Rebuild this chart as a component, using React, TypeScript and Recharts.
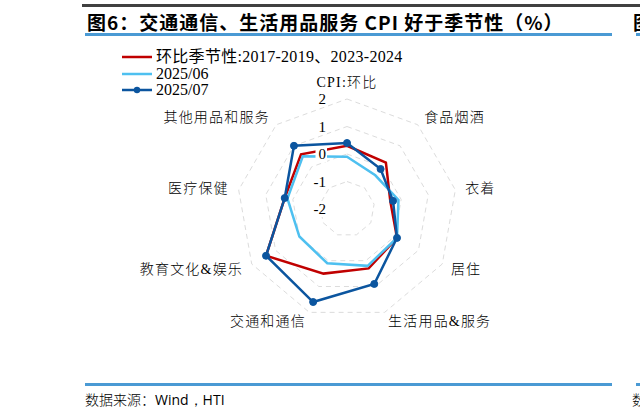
import React from "react"
import { RadarChart, Radar, PolarGrid, PolarAngleAxis, PolarRadiusAxis } from "recharts"

const categories = ["CPI:环比", "食品烟酒", "衣着", "居住", "生活用品&服务", "交通和通信", "教育文化&娱乐", "医疗保健", "其他用品和服务"]
const seasonal = [0.3, 0.2, -0.4, 0.1, 0.3, 0.5, 1.4, 0.3, 0.6]
const jun2025 = [-0.1, -0.4, -0.1, 0.1, 0.2, 0.1, 0.0, 0.2, 0.5]
const jul2025 = [0.4, -0.1, -0.3, 0.1, 0.9, 1.6, 1.4, 0.3, 1.0]
const radiusTicks = [-2, -1, 0, 1, 2]

const seriesNames = ["环比季节性:2017-2019、2023-2024", "2025/06", "2025/07"]

const RED = "#C00000"
const LIGHT = "#4EC0F0"
const DARK = "#0B559F"

const data = categories.map((c, i) => ({
  name: c,
  seasonal: seasonal[i],
  jun: jun2025[i],
  jul: jul2025[i],
}))

const serif = '"Liberation Serif", "Noto Sans CJK SC", serif'

// category labels sit just outside the outer ring, anchored by side
function AngleTick(props: any) {
  const { cx, cy, payload } = props
  const a = (payload.coordinate * Math.PI) / 180
  const r = 120
  const cos = Math.cos(a)
  const sin = Math.sin(a)
  let x = cx + r * cos
  let y = cy - r * sin
  let anchor = "middle"
  if (cos > 0.2) anchor = "start"
  else if (cos < -0.2) anchor = "end"
  if (sin > 0.95) y -= 7
  return (
    <text x={x} y={y} textAnchor={anchor} dominantBaseline="central" fontSize={14} fontFamily={serif} fontWeight={300} fill="#000" letterSpacing={1.2}>
      {payload.value}
    </text>
  )
}

// tick labels on a white box, like the "0" that hides the lines behind it
function RadiusTick(props: any) {
  const { x, y, payload } = props
  const label = String(payload.value)
  const w = label.length * 7.5 + 2
  return (
    <g>
      <rect x={x - 22 - w} y={y - 8} width={w + 2} height={16} fill="#fff" />
      <text x={x - 21} y={y} textAnchor="end" dominantBaseline="central" fontSize={15} fontFamily={serif} fill="#000">
        {label}
      </text>
    </g>
  )
}

function LegendBox() {
  const colors = [RED, LIGHT, DARK]
  return (
    <div style={{ position: "absolute", left: 122, top: 49, fontFamily: serif, fontSize: 16, lineHeight: "16.5px" }}>
      {seriesNames.map((n, i) => (
        <div key={n} style={{ display: "flex", alignItems: "center", height: 16.5 }}>
          <svg width={31} height={10} style={{ marginRight: 3 }}>
            <line x1={0} y1={5} x2={30} y2={5} stroke={colors[i]} strokeWidth={2.5} />
            {i === 2 && <circle cx={15} cy={5} r={3.2} fill={DARK} />}
          </svg>
          <span style={{ letterSpacing: i === 0 ? 0.3 : 0 }}>{n}</span>
        </div>
      ))}
    </div>
  )
}

export default function App() {
  return (
    <div style={{ position: "absolute", left: 0, top: 0, width: 640, height: 418, background: "#fff", overflow: "hidden" }}>
      <div style={{ position: "absolute", left: 82, top: 4, width: 558, height: 2.5, background: "#404040" }} />
      <div
        style={{
          position: "absolute",
          left: 87,
          top: 8,
          fontFamily: '"Noto Sans CJK SC", sans-serif',
          fontWeight: 700,
          fontSize: 19,
          lineHeight: "27px",
          whiteSpace: "nowrap",
          color: "#000",
          letterSpacing: 1.0,
        }}
      >
        图6：交通通信、生活用品服务 CPI 好于季节性（%）
      </div>
      <div style={{ position: "absolute", left: 633, top: 8, fontFamily: '"Noto Sans CJK SC", sans-serif', fontWeight: 700, fontSize: 19, lineHeight: "27px" }}>
        图
      </div>
      <div style={{ position: "absolute", left: 85, top: 33, width: 527, height: 2.5, background: "#4A9AD4" }} />
      <div style={{ position: "absolute", left: 636, top: 33, width: 10, height: 2.5, background: "#4A9AD4" }} />

      <RadarChart width={640} height={418} data={data} cx={347} cy={209} outerRadius={110} style={{ position: "absolute", left: 0, top: 0 }}>
        <PolarGrid gridType="polygon" radialLines={false} stroke="#DCDCDC" strokeDasharray="5 4" strokeWidth={1} />
        <PolarAngleAxis dataKey="name" tick={<AngleTick />} axisLine={false} tickLine={false} />
        <Radar dataKey="seasonal" name={seriesNames[0]} stroke={RED} strokeWidth={2.5} fill="none" fillOpacity={0} dot={false} isAnimationActive={false} />
        <Radar dataKey="jun" name={seriesNames[1]} stroke={LIGHT} strokeWidth={2.5} fill="none" fillOpacity={0} dot={false} isAnimationActive={false} />
        <Radar
          dataKey="jul"
          name={seriesNames[2]}
          stroke={DARK}
          strokeWidth={2.5}
          fill="none"
          fillOpacity={0}
          dot={{ r: 3.5, fill: DARK, stroke: DARK, strokeWidth: 1, fillOpacity: 1 }}
          isAnimationActive={false}
        />
        <PolarRadiusAxis angle={90} domain={[-2, 2]} ticks={radiusTicks as any} tickCount={5} axisLine={false} tickLine={false} tick={<RadiusTick />} />
      </RadarChart>

      <LegendBox />

      <div style={{ position: "absolute", left: 85, top: 383, width: 527, height: 2.5, background: "#4A9AD4" }} />
      <div style={{ position: "absolute", left: 636, top: 383, width: 10, height: 2.5, background: "#4A9AD4" }} />
      <div style={{ position: "absolute", left: 85, top: 389, fontSize: 14, lineHeight: "20px", whiteSpace: "nowrap", color: "#000" }}>
        <span style={{ fontFamily: '"Noto Sans CJK SC"', fontWeight: 300 }}>数据来源：</span>
        <span style={{ fontFamily: '"Open Sans", "Liberation Sans", sans-serif' }}>Wind，HTI</span>
      </div>
      <div style={{ position: "absolute", left: 632, top: 389, fontSize: 14, lineHeight: "20px", fontFamily: '"Noto Sans CJK SC"', fontWeight: 300 }}>
        数
      </div>
    </div>
  )
}
